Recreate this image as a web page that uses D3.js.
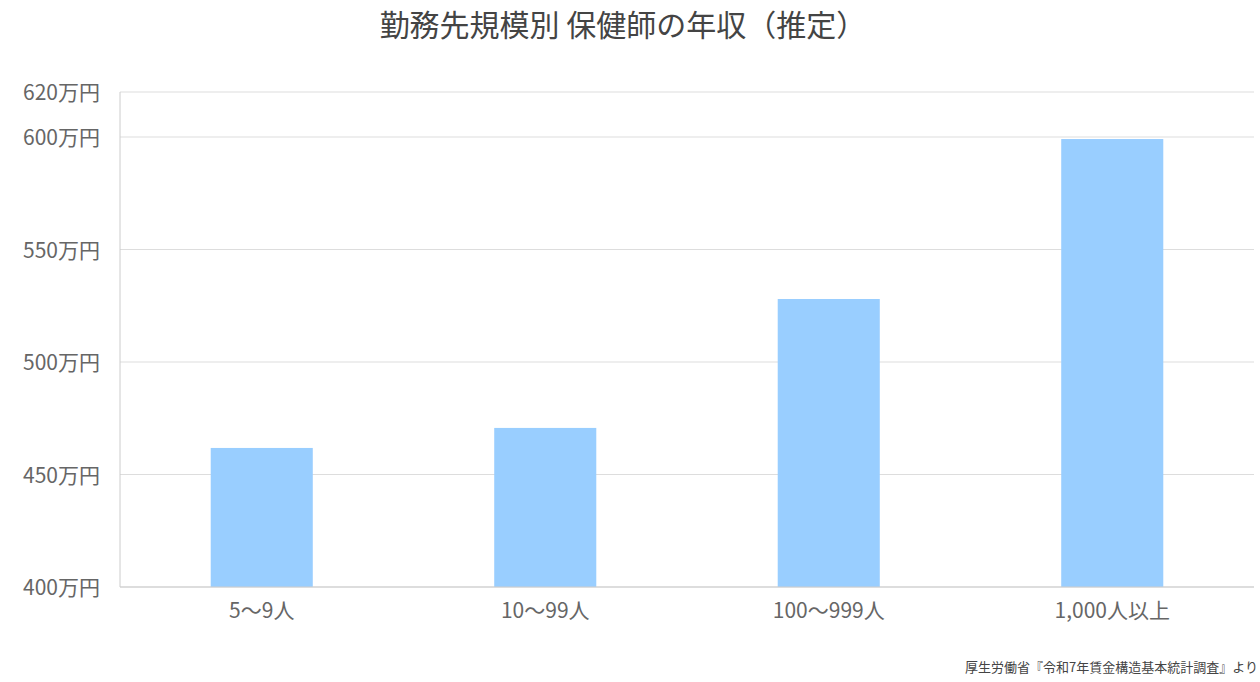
<!DOCTYPE html>
<html><head><meta charset="utf-8">
<script src="https://cdn.jsdelivr.net/npm/d3@7"></script>
<style>body{margin:0;background:#fff;font-family:"Noto Sans CJK JP","Noto Sans",sans-serif}</style>
</head><body><svg id="c" width="1260" height="682"></svg>
<script>
const categories=["5〜9人","10〜99人","100〜999人","1,000人以上"];
const values=[461.8,470.7,528.0,599.1];
const yTicks=[400,450,500,550,600,620];
const svg=d3.select("#c");
const x=d3.scaleBand().domain(categories).range([120,1254]).paddingInner(0.64).paddingOuter(0.32);
const y=d3.scaleLinear().domain([400,620]).range([587,92]);
const g=svg.append("g");
g.selectAll("line.grid").data(yTicks).join("line").attr("x1",120).attr("x2",1254)
 .attr("y1",d=>y(d)).attr("y2",d=>y(d)).attr("stroke","#dddddd");
g.selectAll("rect").data(values).join("rect").attr("x",(d,i)=>x(categories[i])).attr("width",x.bandwidth())
 .attr("y",d=>y(d)).attr("height",d=>y(400)-y(d)).attr("fill","#99ceff");
g.append("line").attr("x1",120).attr("x2",120).attr("y1",92).attr("y2",587).attr("stroke","#ccc");
g.append("line").attr("x1",120).attr("x2",1254).attr("y1",587).attr("y2",587).attr("stroke","#ccc");
g.selectAll("text.y").data(yTicks).join("text").attr("x",100).attr("y",d=>y(d)+8).attr("text-anchor","end")
 .attr("font-size",21).attr("fill","#666").text(d=>d+"万円");
g.selectAll("text.x").data(categories).join("text").attr("x",d=>x(d)+x.bandwidth()/2).attr("y",618)
 .attr("text-anchor","middle").attr("font-size",21).attr("fill","#666").text(d=>d);
svg.append("text").attr("x",623).attr("y",36).attr("text-anchor","middle").attr("font-size",30).attr("fill","#444")
 .text("勤務先規模別 保健師の年収（推定）");
svg.append("text").attr("x",1258).attr("y",672).attr("text-anchor","end").attr("font-size",13).attr("fill","#444")
 .text("厚生労働省『令和7年賃金構造基本統計調査』より");
</script></body></html>
